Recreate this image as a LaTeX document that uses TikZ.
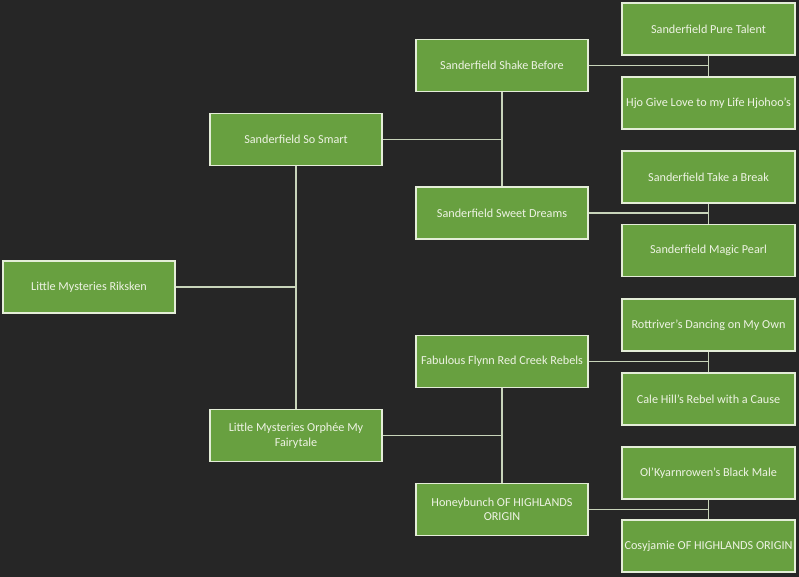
\documentclass[tikz,border=0pt]{standalone}
\usepackage{fontspec}
\setmainfont{Carlito}
\definecolor{bgc}{HTML}{262626}
\definecolor{boxfill}{HTML}{68A040}
\definecolor{boxline}{HTML}{E4EDD8}
\definecolor{txt}{HTML}{EEF3E4}
\definecolor{conn}{HTML}{C8D4BA}
\begin{document}
\begin{tikzpicture}[x=1pt,y=-1pt,
  pbox/.style={draw=boxline, line width=1.6pt, fill=boxfill, text=txt,
    minimum width=172pt, minimum height=52pt, inner sep=2pt, align=center,
    font=\fontsize{12.2}{14.5}\selectfont},
  link/.style={draw=conn, line width=1.6pt}]
\fill[bgc] (0,0) rectangle (799,577);
\useasboundingbox (0,0) rectangle (799,577);
% generation 1
\node[pbox] (rik) at (89,287) {Little Mysteries Riksken};
% generation 2
\node[pbox] (smart) at (296,139.5) {Sanderfield So Smart};
\node[pbox] (orph) at (296,435.5) {Little Mysteries Orphée My\\Fairytale};
% generation 3
\node[pbox] (shake) at (502,65.5) {Sanderfield Shake Before};
\node[pbox] (sweet) at (502,213) {Sanderfield Sweet Dreams};
\node[pbox] (flynn) at (502,361.5) {Fabulous Flynn Red Creek Rebels};
\node[pbox] (honey) at (502,509.5) {Honeybunch OF HIGHLANDS\\ORIGIN};
% generation 4
\node[pbox, minimum width=173pt] (pure) at (708.5,29) {Sanderfield Pure Talent};
\node[pbox, minimum width=173pt] (hjo) at (708.5,103) {Hjo Give Love to my Life Hjohoo's};
\node[pbox, minimum width=173pt] (take) at (708.5,177) {Sanderfield Take a Break};
\node[pbox, minimum width=173pt] (pearl) at (708.5,250.5) {Sanderfield Magic Pearl};
\node[pbox, minimum width=173pt] (rott) at (708.5,325) {Rottriver's Dancing on My Own};
\node[pbox, minimum width=173pt] (cale) at (708.5,399) {Cale Hill's Rebel with a Cause};
\node[pbox, minimum width=173pt] (olk) at (708.5,473) {Ol'Kyarnrowen's Black Male};
\node[pbox, minimum width=173pt] (cosy) at (708.5,546) {Cosyjamie OF HIGHLANDS ORIGIN};
% connectors
\draw[link] (smart.south) -- (orph.north);
\draw[link] (rik.east) -- (rik.east -| smart.south);
\draw[link] (shake.south) -- (sweet.north);
\draw[link] (smart.east) -- (smart.east -| shake.south);
\draw[link] (flynn.south) -- (honey.north);
\draw[link] (orph.east) -- (orph.east -| flynn.south);
\draw[link] (pure.south) -- (hjo.north);
\draw[link] (shake.east) -- (shake.east -| pure.south);
\draw[link] (take.south) -- (pearl.north);
\draw[link] (sweet.east) -- (sweet.east -| take.south);
\draw[link] (rott.south) -- (cale.north);
\draw[link] (flynn.east) -- (flynn.east -| rott.south);
\draw[link] (olk.south) -- (cosy.north);
\draw[link] (honey.east) -- (honey.east -| olk.south);
\end{tikzpicture}
\end{document}
